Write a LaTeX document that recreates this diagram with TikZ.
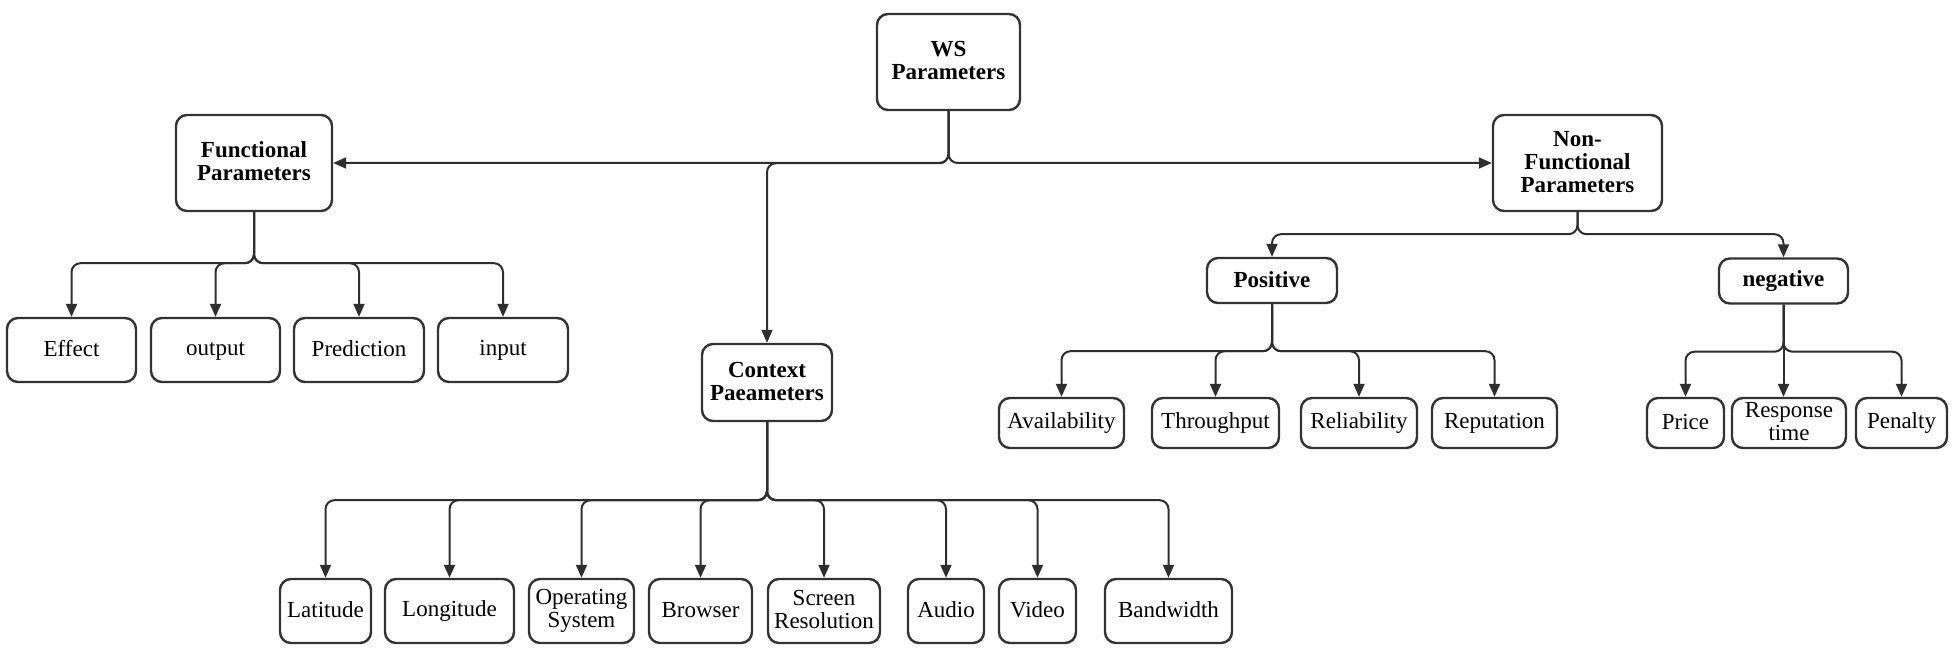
\documentclass[tikz,border=0pt]{standalone}
\usepackage{fontspec}
\setmainfont{Liberation Serif}
\usetikzlibrary{arrows.meta}
\newcommand\boxstrut{\rule[-3pt]{0pt}{19pt}}
\begin{document}
\begin{tikzpicture}[x=1pt,y=-1pt,
  box/.style={draw=black!80, line width=2.4pt, rounded corners=11pt, inner sep=0pt,
    align=center, font=\fontsize{23}{23}\selectfont, text=black,
    execute at begin node=\boxstrut, execute at end node=\boxstrut},
  pbox/.style={box, font=\fontsize{23}{23}\selectfont\bfseries},
  conn/.style={draw=black!82, line width=2pt, rounded corners=9pt,
    -{Triangle[length=13pt,width=11pt]}}
]
\useasboundingbox (0,0) rectangle (1955,658);

% parents
\node[pbox, minimum width=143pt, minimum height=96pt] (ws) at (948.5,62) {WS\\Parameters};
\node[pbox, minimum width=156pt, minimum height=96pt] (fp) at (254,163) {Functional\\Parameters};
\node[pbox, minimum width=169pt, minimum height=96pt] (nf) at (1577.5,163) {Non-\\Functional\\Parameters};
\node[pbox, minimum width=130pt, minimum height=77pt] (ctx) at (767,382.5) {Context\\Paeameters};
\node[pbox, minimum width=130pt, minimum height=45pt] (pos) at (1272,280.5) {Positive};
\node[pbox, minimum width=129pt, minimum height=45pt] (neg) at (1783.5,281) {negative};

% functional leaves
\node[box, minimum width=129pt, minimum height=64pt] (eff) at (71.5,350) {Effect};
\node[box, minimum width=129pt, minimum height=64pt] (out) at (215.5,350) {output};
\node[box, minimum width=130pt, minimum height=64pt] (pre) at (359,350) {Prediction};
\node[box, minimum width=130pt, minimum height=64pt] (inp) at (503,350) {input};

% positive leaves
\node[box, minimum width=125pt, minimum height=50pt] (ava) at (1061.5,423) {Availability};
\node[box, minimum width=127pt, minimum height=50pt] (thr) at (1215.5,423) {Throughput};
\node[box, minimum width=116pt, minimum height=50pt] (rel) at (1359,423) {Reliability};
\node[box, minimum width=125pt, minimum height=50pt] (rep) at (1494.5,423) {Reputation};

% negative leaves
\node[box, minimum width=77pt, minimum height=50pt] (pri) at (1685.5,423) {Price};
\node[box, minimum width=114pt, minimum height=50pt] (res) at (1789,423) {Response\\time};
\node[box, minimum width=91pt, minimum height=50pt] (pen) at (1901.5,423) {Penalty};

% context leaves
\node[box, minimum width=91pt, minimum height=64pt] (lat) at (325.5,611) {Latitude};
\node[box, minimum width=129pt, minimum height=64pt] (lon) at (449.5,611) {Longitude};
\node[box, minimum width=105pt, minimum height=64pt] (os) at (581.5,611) {Operating\\System};
\node[box, minimum width=103pt, minimum height=64pt] (bro) at (700.5,611) {Browser};
\node[box, minimum width=112pt, minimum height=64pt] (scr) at (824,611) {Screen\\Resolution};
\node[box, minimum width=76pt, minimum height=64pt] (aud) at (946,611) {Audio};
\node[box, minimum width=77pt, minimum height=64pt] (vid) at (1037.5,611) {Video};
\node[box, minimum width=127pt, minimum height=64pt] (ban) at (1168.5,611) {Bandwidth};

% top level
\draw[conn] (ws.south) |- (fp.east);
\draw[conn] (ws.south) |- (nf.west);
\draw[conn] (ws.south) -- ++(0,52) -| (ctx.north);

% functional
\foreach \c in {eff,out,pre,inp}
  \draw[conn] (fp.south) -- ++(0,51) -| (\c.north);

% context
\foreach \c in {lat,lon,os,bro,scr,aud,vid,ban}
  \draw[conn] (ctx.south) -- ++(0,78) -| (\c.north);

% non-functional
\draw[conn] (nf.south) -- ++(0,22) -| (pos.north);
\draw[conn] (nf.south) -- ++(0,22) -| (neg.north);

% positive
\foreach \c in {ava,thr,rel,rep}
  \draw[conn] (pos.south) -- ++(0,47) -| (\c.north);

% negative
\draw[conn] (neg.south) -- ++(0,47) -| (pri.north);
\draw[conn] (neg.south) -- (neg.south |- res.north);
\draw[conn] (neg.south) -- ++(0,47) -| (pen.north);
\end{tikzpicture}
\end{document}
